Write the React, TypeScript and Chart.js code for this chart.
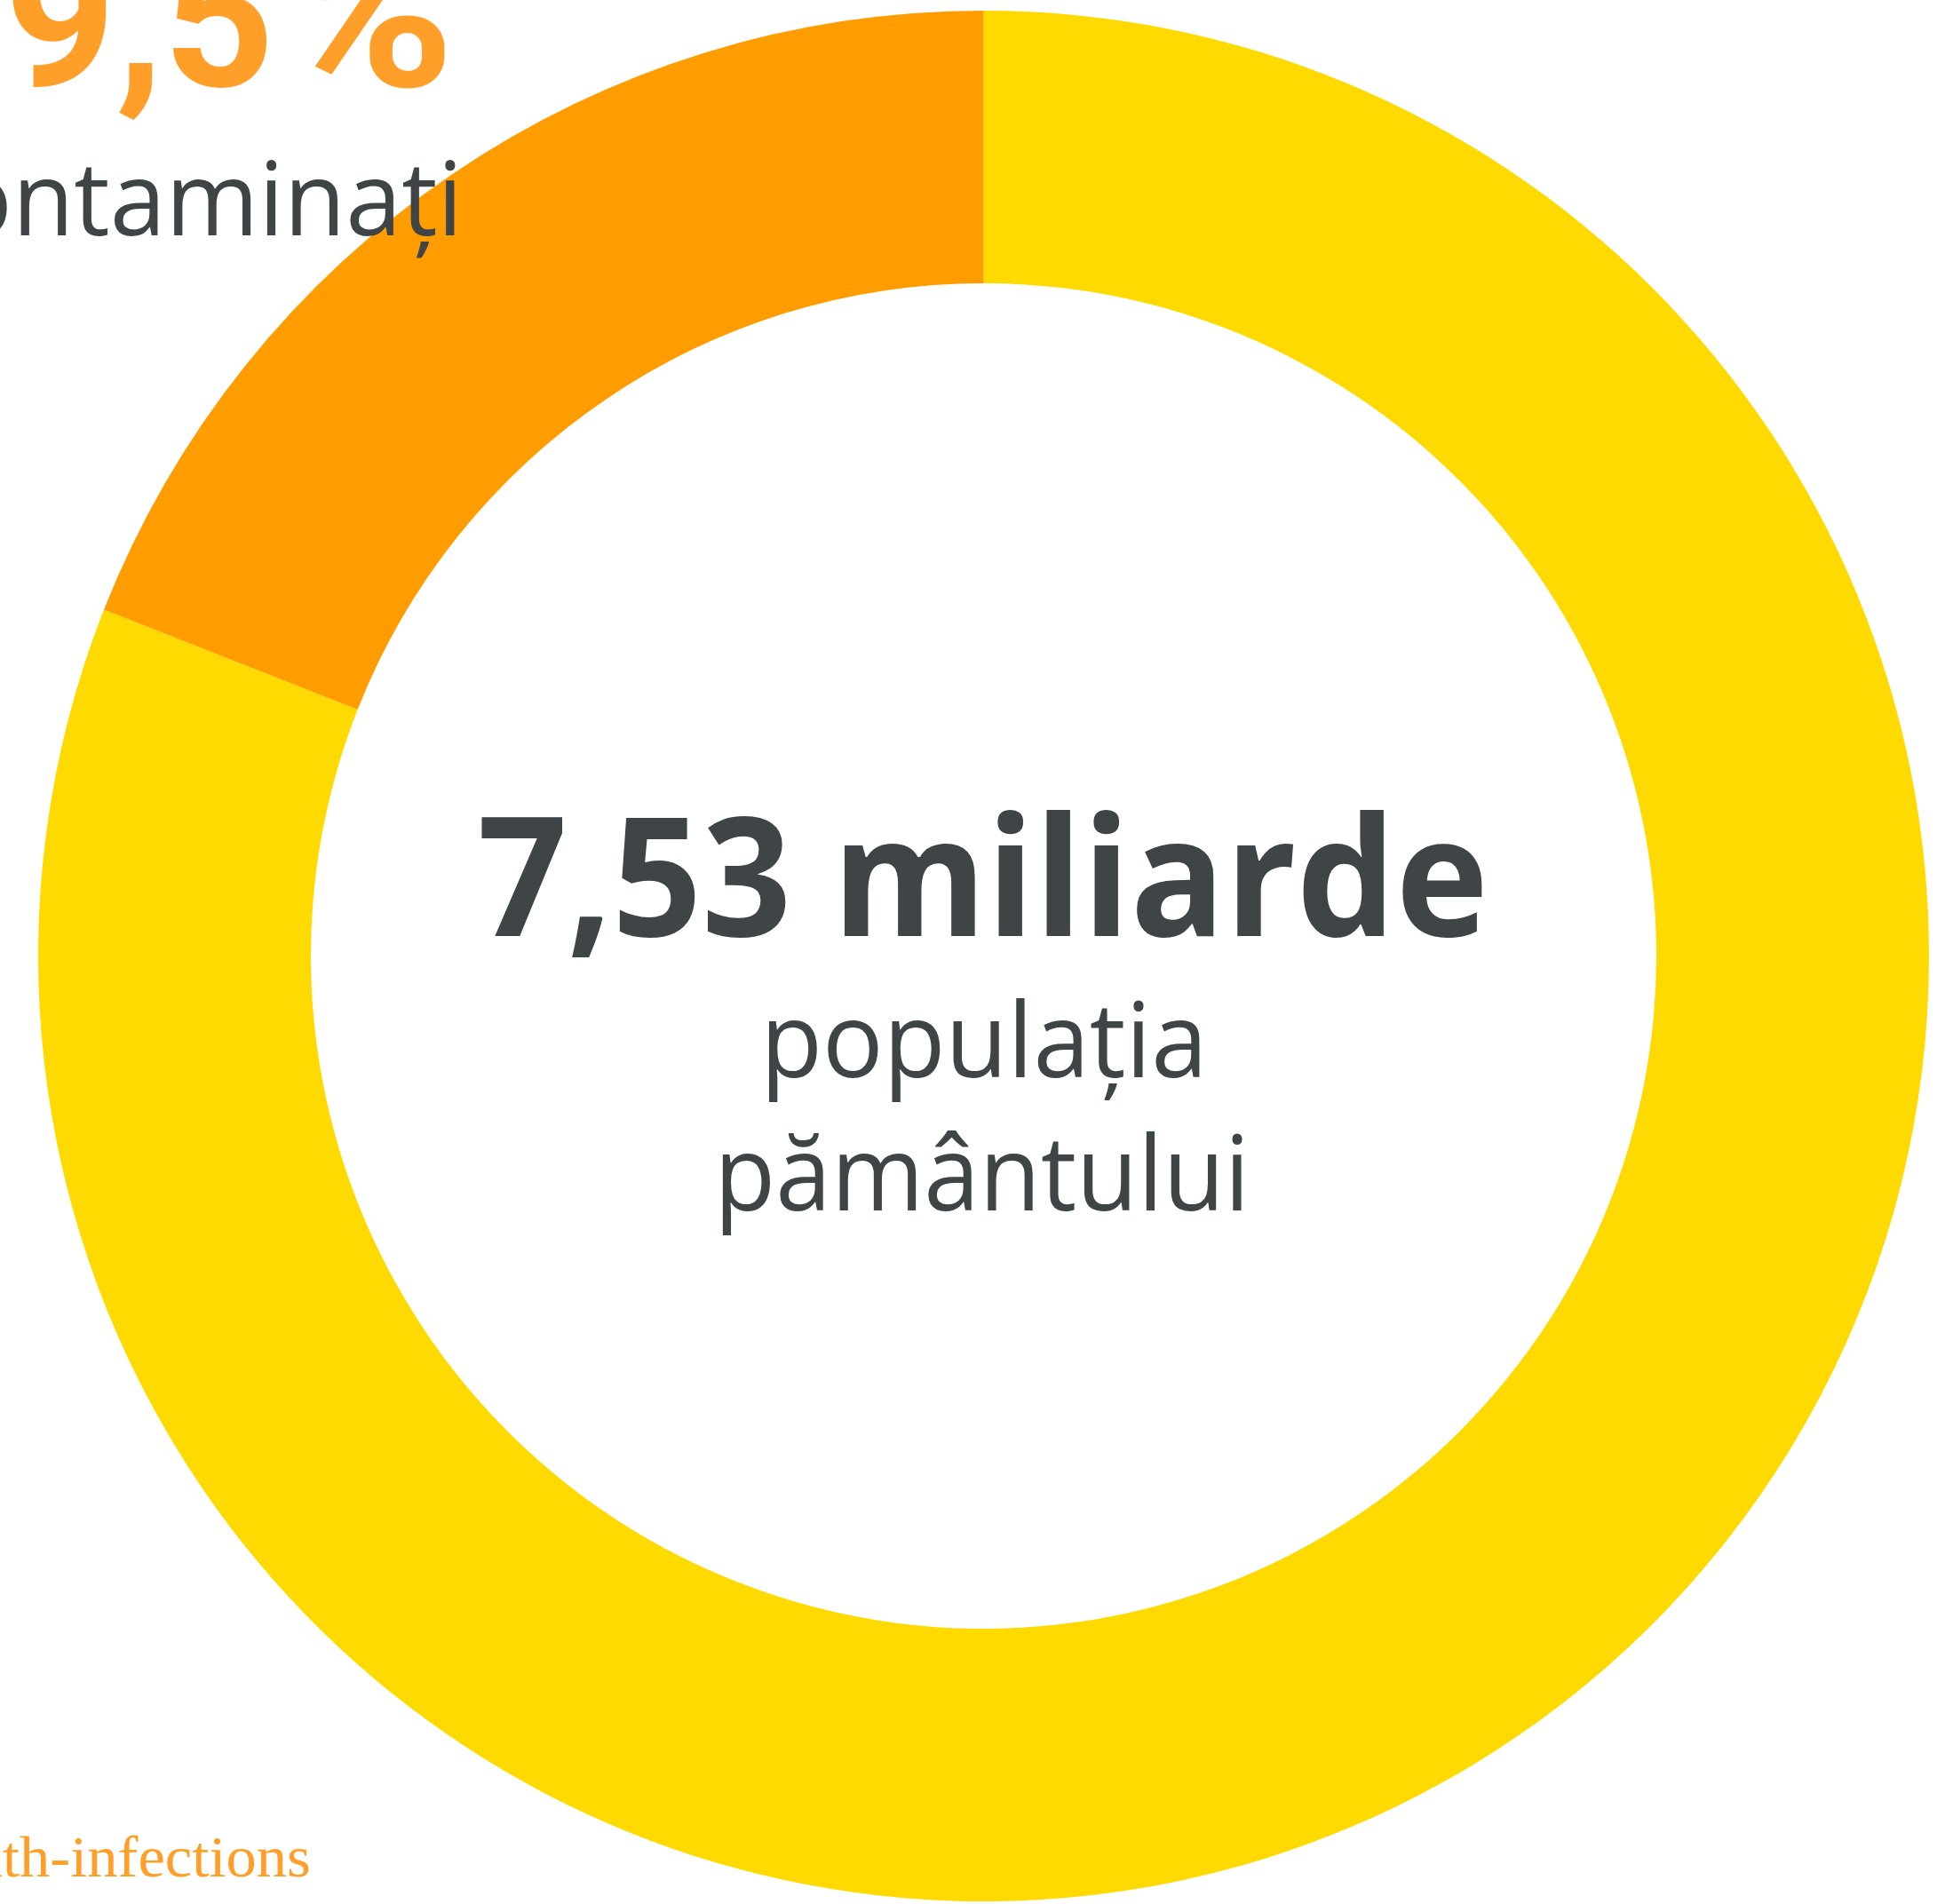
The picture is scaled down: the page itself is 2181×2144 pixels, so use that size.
import { useEffect, useRef } from "react";
import { Chart, registerables } from "chart.js";

Chart.register(...registerables);

// ---- data ----
const categories = ["Restul populației", "Contaminați"];
const populationBillions = [6.097, 1.433];
const segmentColors = ["#FFDA00", "#FF9D00"];
const totalLabel = "7,53 miliarde";
const centerLines = ["populația", "pământului"];
const shareNumber = "19,5";
const shareUnit = "%";
const shareCaption = "contaminați";
const sourceLabel =
  "https://www.who.int/news-room/fact-sheets/detail/soil-transmitted-helminth-infections";

const DARK = "#3F4447";
const ORANGE_TEXT = "#FF9F29";

type Mode = "center" | "right";

function drawText(
  ctx: CanvasRenderingContext2D,
  text: string,
  font: string,
  color: string,
  x: number,
  y: number,
  mode: Mode,
  opts: { targetWidth?: number; scaleX?: number; fitText?: string } = {}
): number {
  ctx.save();
  ctx.font = font;
  ctx.fillStyle = color;
  ctx.textAlign = "left";
  ctx.textBaseline = "alphabetic";
  const m = ctx.measureText(text);
  const l = m.actualBoundingBoxLeft;
  const r = m.actualBoundingBoxRight;
  let s = opts.scaleX ?? 1;
  if (opts.targetWidth) {
    const fm = opts.fitText ? ctx.measureText(opts.fitText) : m;
    s = opts.targetWidth / (fm.actualBoundingBoxLeft + fm.actualBoundingBoxRight);
  }
  ctx.translate(x, y);
  ctx.scale(s, 1);
  if (mode === "center") ctx.fillText(text, -(r - l) / 2, 0);
  else ctx.fillText(text, -r, 0);
  ctx.restore();
  return s;
}

const overlayText = {
  id: "overlayText",
  afterDraw(chart: any) {
    const ctx: CanvasRenderingContext2D = chart.ctx;
    const arc = chart.getDatasetMeta(0).data[0];
    const cx = arc.x;
    const cy = arc.y;

    drawText(ctx, totalLabel, 'bold 186px "Open Sans"', DARK, cx - 2, cy - 22.5, "center", {
      targetWidth: 1126,
    });
    const s = drawText(ctx, centerLines[0], '117px "Open Sans"', DARK, cx + 1, cy + 136.5, "center", {
      targetWidth: 485,
    });
    drawText(ctx, centerLines[1], '117px "Open Sans"', DARK, cx - 1, cy + 286.5, "center", {
      targetWidth: 585,
    });

    drawText(ctx, shareNumber, 'bold 218px "Roboto"', ORANGE_TEXT, 301, 97, "right");
    drawText(ctx, shareUnit, 'bold 248px "Roboto"', ORANGE_TEXT, 501, 97, "right", {
      targetWidth: 178,
    });
    drawText(ctx, shareCaption, '116px "Open Sans"', DARK, 513, 265, "right", { scaleX: s });
    drawText(ctx, sourceLabel, '66px "Liberation Serif"', ORANGE_TEXT, 348, 2113, "right", {
      targetWidth: 345,
      fitText: "th-infections",
    });
  },
};

export default function App() {
  const ref = useRef<HTMLCanvasElement | null>(null);

  useEffect(() => {
    let chart: Chart | null = null;
    let cancelled = false;
    const make = () => {
      if (cancelled || !ref.current) return;
      chart = new Chart(ref.current, {
        type: "doughnut",
        data: {
          labels: categories,
          datasets: [
            {
              data: populationBillions,
              backgroundColor: segmentColors,
              borderWidth: 0,
              hoverOffset: 0,
            },
          ],
        },
        options: {
          responsive: false,
          animation: false,
          cutout: "71.16%",
          rotation: 0,
          layout: { padding: { left: 43, right: 9, top: 12, bottom: 3 } },
          plugins: {
            legend: { display: false },
            tooltip: { enabled: false },
          },
          events: [],
        },
        plugins: [overlayText],
      });
    };
    const fonts = [
      'bold 186px "Open Sans"',
      '117px "Open Sans"',
      'bold 218px "Roboto"',
      '66px "Liberation Serif"',
    ];
    Promise.all(fonts.map((f) => document.fonts.load(f)))
      .catch(() => null)
      .then(make);
    return () => {
      cancelled = true;
      if (chart) chart.destroy();
    };
  }, []);

  return (
    <canvas
      ref={ref}
      width={2181}
      height={2144}
      style={{ position: "absolute", left: 0, top: 0, width: 2181, height: 2144, display: "block" }}
    />
  );
}
